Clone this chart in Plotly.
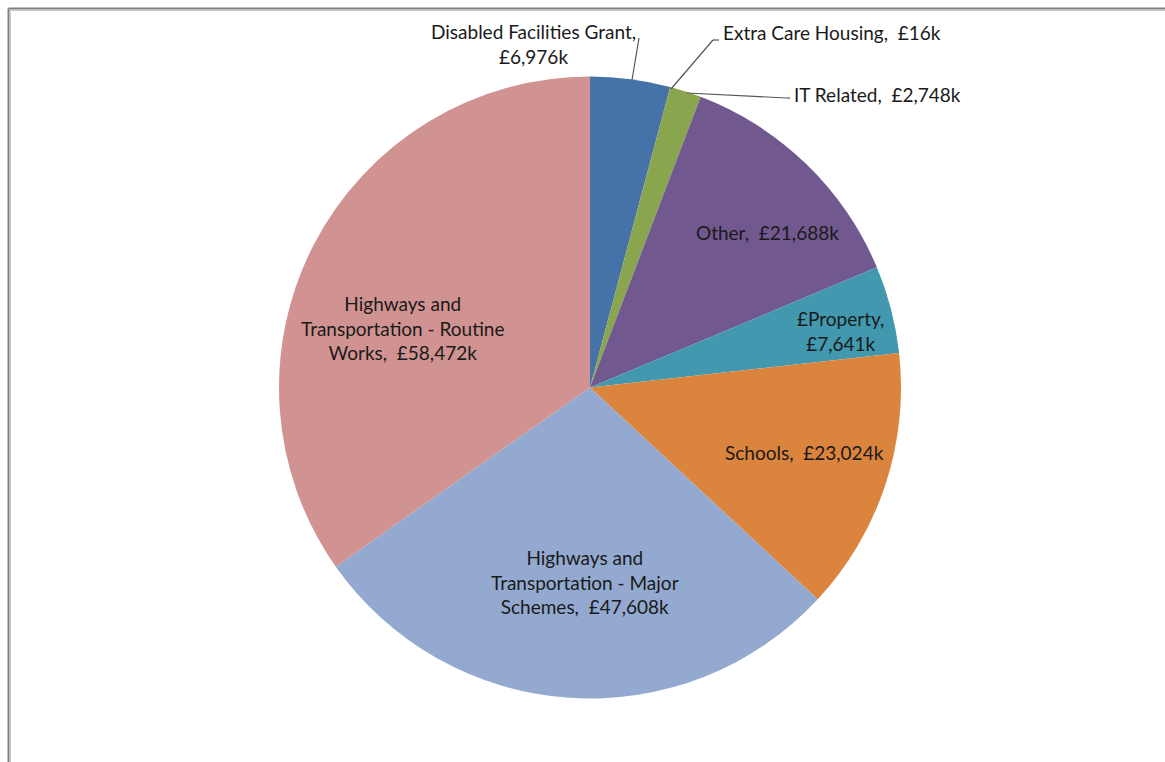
import plotly.graph_objects as go

W, H = 1165, 762

categories = ["Disabled Facilities Grant", "Extra Care Housing", "IT Related", "Other",
              "£Property", "Schools", "Highways and Transportation - Major Schemes",
              "Highways and Transportation - Routine Works"]
values_k = [6976, 16, 2748, 21688, 7641, 23024, 47608, 58472]
colors = ["#4572A7", "#AA4643", "#89A54E", "#71588F", "#4198AF", "#DB843D", "#93A9CF", "#D19392"]

# label text blocks (line breaks as drawn in the reference)
label_lines = [
    ["Disabled Facilities Grant,", "£{v}k"],
    ["Extra Care Housing,  £{v}k"],
    ["IT Related,  £{v}k"],
    ["Other,  £{v}k"],
    ["£Property,", "£{v}k"],
    ["Schools,  £{v}k"],
    ["Highways and", "Transportation - Major", "Schemes,  £{v}k"],
    ["Highways and", "Transportation - Routine", "Works,  £{v}k"],
]

# label anchor positions in pixels (layout only)
label_pos = [(533, 44, "center"), (721, 32, "left"), (792, 94, "left"), (767, 232, "center"),
             (840, 331, "center"), (804, 452, "center"), (585, 582, "center"), (403, 328, "center")]


def px(x):
    return x / W


def py(y):
    return 1 - y / H


cx, cy, r = 590, 387.5, 311

fig = go.Figure(go.Pie(
    labels=categories,
    values=values_k,
    sort=False,
    direction="clockwise",
    rotation=0,
    marker=dict(colors=colors, line=dict(width=0)),
    textinfo="none",
    hoverinfo="label+value",
    showlegend=False,
    domain=dict(x=[px(cx - r), px(cx + r)], y=[py(cy + r), py(cy - r)]),
))

annotations = []
for lines, v, (x, y, anchor) in zip(label_lines, values_k, label_pos):
    txt = "<br>".join(l.format(v=f"{v:,}") for l in lines)
    annotations.append(dict(
        x=px(x), y=py(y), xref="paper", yref="paper", text=txt, showarrow=False,
        xanchor=anchor, yanchor="middle", align="center",
        font=dict(family="Lato", size=19, color="#1a1a1a"),
    ))

shapes = []
# leader lines
leaders = [
    [(632, 80), (639, 38)],
    [(671, 89), (713, 40), (719, 40)],
    [(687, 93), (787, 98), (790, 98)],
]
for pts in leaders:
    for (x0, y0), (x1, y1) in zip(pts[:-1], pts[1:]):
        shapes.append(dict(type="line", xref="paper", yref="paper",
                           x0=px(x0), y0=py(y0), x1=px(x1), y1=py(y1),
                           line=dict(color="#555555", width=1.2)))
# chart frame (left and top edges)
shapes += [
    dict(type="line", xref="paper", yref="paper", x0=px(8.5), y0=py(8.5), x1=px(8.5), y1=py(H),
         line=dict(color="#808080", width=2)),
    dict(type="line", xref="paper", yref="paper", x0=px(8.5), y0=py(8.5), x1=px(W), y1=py(8.5),
         line=dict(color="#808080", width=2)),
    dict(type="line", xref="paper", yref="paper", x0=px(10.5), y0=py(10.5), x1=px(10.5), y1=py(H),
         line=dict(color="#c8c8c8", width=1)),
    dict(type="line", xref="paper", yref="paper", x0=px(10.5), y0=py(10.5), x1=px(W), y1=py(10.5),
         line=dict(color="#c8c8c8", width=1)),
]

fig.update_layout(
    width=W, height=H,
    margin=dict(l=0, r=0, t=0, b=0),
    paper_bgcolor="white", plot_bgcolor="white",
    annotations=annotations, shapes=shapes,
)

fig.write_html("out.html")
